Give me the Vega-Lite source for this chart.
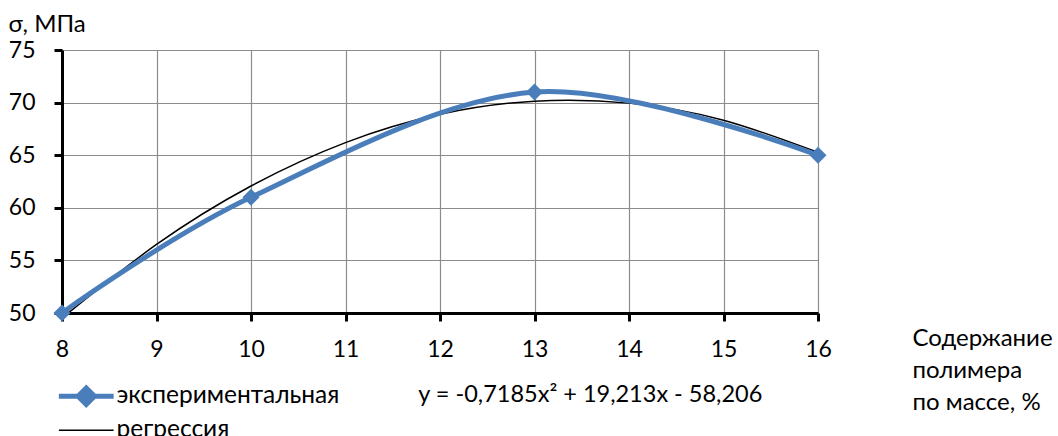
{
  "$schema": "https://vega.github.io/schema/vega-lite/v6.json",
  "autosize": "none",
  "width": 756,
  "height": 263,
  "padding": {"left": 62, "top": 50, "right": 240, "bottom": 123},
  "background": "white",
  "config": {
    "font": "Lato",
    "view": {"stroke": null},
    "axis": {"labelFont": "Lato", "titleFont": "Lato", "labelColor": "black", "titleColor": "black"}
  },
  "datasets": {
    "exp": [
      {"x": 8, "y": 50, "series": "экспериментальная"},
      {"x": 10, "y": 61, "series": "экспериментальная"},
      {"x": 13, "y": 71, "series": "экспериментальная"},
      {"x": 16, "y": 65, "series": "экспериментальная"}
    ],
    "reg": [
      {"x": 8, "y": 49.514, "series": "регрессия"},
      {"x": 9, "y": 56.513, "series": "регрессия"},
      {"x": 10, "y": 62.074, "series": "регрессия"},
      {"x": 11, "y": 66.199, "series": "регрессия"},
      {"x": 12, "y": 68.886, "series": "регрессия"},
      {"x": 13, "y": 70.137, "series": "регрессия"},
      {"x": 14, "y": 69.95, "series": "регрессия"},
      {"x": 15, "y": 68.327, "series": "регрессия"},
      {"x": 16, "y": 65.266, "series": "регрессия"}
    ],
    "eq": [
      {"x": 11.77, "y": 42.2, "label": "y = -0,7185x² + 19,213x - 58,206"}
    ]
  },
  "layer": [
    {
      "data": {"name": "reg"},
      "mark": {"type": "line", "interpolate": "natural", "strokeWidth": 1.5, "clip": true},
      "encoding": {
        "x": {
          "field": "x", "type": "quantitative",
          "scale": {"domain": [8, 16], "nice": false, "zero": false},
          "axis": {
            "values": [8, 9, 10, 11, 12, 13, 14, 15, 16], "format": "d",
            "grid": true, "gridColor": "#8c8c8c", "gridWidth": 1.2,
            "domainColor": "black", "domainWidth": 3,
            "tickColor": "black", "tickWidth": 3, "tickSize": 8,
            "labelFontSize": 23, "labelPadding": 17, "labelFlush": false,
            "title": ["Содержание", "полимера", "по массе, %"],
            "titleFontSize": 24, "titleFontWeight": "normal",
            "titleAlign": "left", "titleBaseline": "middle",
            "titleX": 850, "titleY": 25, "titleLineHeight": 32
          }
        },
        "y": {
          "field": "y", "type": "quantitative",
          "scale": {"domain": [50, 75], "nice": false, "zero": false},
          "axis": {
            "values": [50, 55, 60, 65, 70, 75],
            "grid": true, "gridColor": "#8c8c8c", "gridWidth": 1.2,
            "domainColor": "black", "domainWidth": 3,
            "tickColor": "black", "tickWidth": 3, "tickSize": 8,
            "labelFontSize": 23, "labelPadding": 19, "labelFlush": false,
            "title": "σ, МПа", "titleFontSize": 24, "titleFontWeight": "normal",
            "titleAngle": 0, "titleAlign": "left", "titleBaseline": "middle",
            "titleX": -54, "titleY": -26
          }
        },
        "color": {
          "field": "series", "type": "nominal",
          "scale": {"domain": ["экспериментальная", "регрессия"], "range": ["#4A7EBB", "black"]},
          "legend": {
            "orient": "none", "legendX": 12, "legendY": 334,
            "title": null, "padding": 0,
            "symbolType": "stroke", "symbolSize": 3000, "symbolStrokeWidth": 1.5,
            "labelFontSize": 24.5, "labelFont": "Lato", "labelColor": "black",
            "labelOffset": 18, "rowPadding": 2, "labelLimit": 400,
            "encode": {
              "symbols": {
                "update": {
                  "shape": {"signal": "datum.value === 'экспериментальная' ? 'M-1,0H1M0,-0.3L0.3,0L0,0.3L-0.3,0Z' : 'stroke'"},
                  "fill": {"signal": "datum.value === 'экспериментальная' ? '#4A7EBB' : 'transparent'"},
                  "strokeWidth": {"signal": "datum.value === 'экспериментальная' ? 5 : 1.5"}
                }
              }
            }
          }
        }
      }
    },
    {
      "data": {"name": "exp"},
      "mark": {"type": "line", "interpolate": "cardinal", "strokeWidth": 5, "clip": true},
      "encoding": {
        "x": {"field": "x", "type": "quantitative"},
        "y": {"field": "y", "type": "quantitative"},
        "color": {"field": "series", "type": "nominal"}
      }
    },
    {
      "data": {"name": "exp"},
      "mark": {"type": "point", "shape": "diamond", "filled": true, "size": 290, "opacity": 1, "color": "#4A7EBB"},
      "encoding": {
        "x": {"field": "x", "type": "quantitative"},
        "y": {"field": "y", "type": "quantitative"}
      }
    },
    {
      "data": {"name": "eq"},
      "mark": {"type": "text", "align": "left", "baseline": "middle", "fontSize": 23.5, "font": "Lato", "color": "black", "clip": false},
      "encoding": {
        "x": {"field": "x", "type": "quantitative"},
        "y": {"field": "y", "type": "quantitative"},
        "text": {"field": "label"}
      }
    }
  ]
}
